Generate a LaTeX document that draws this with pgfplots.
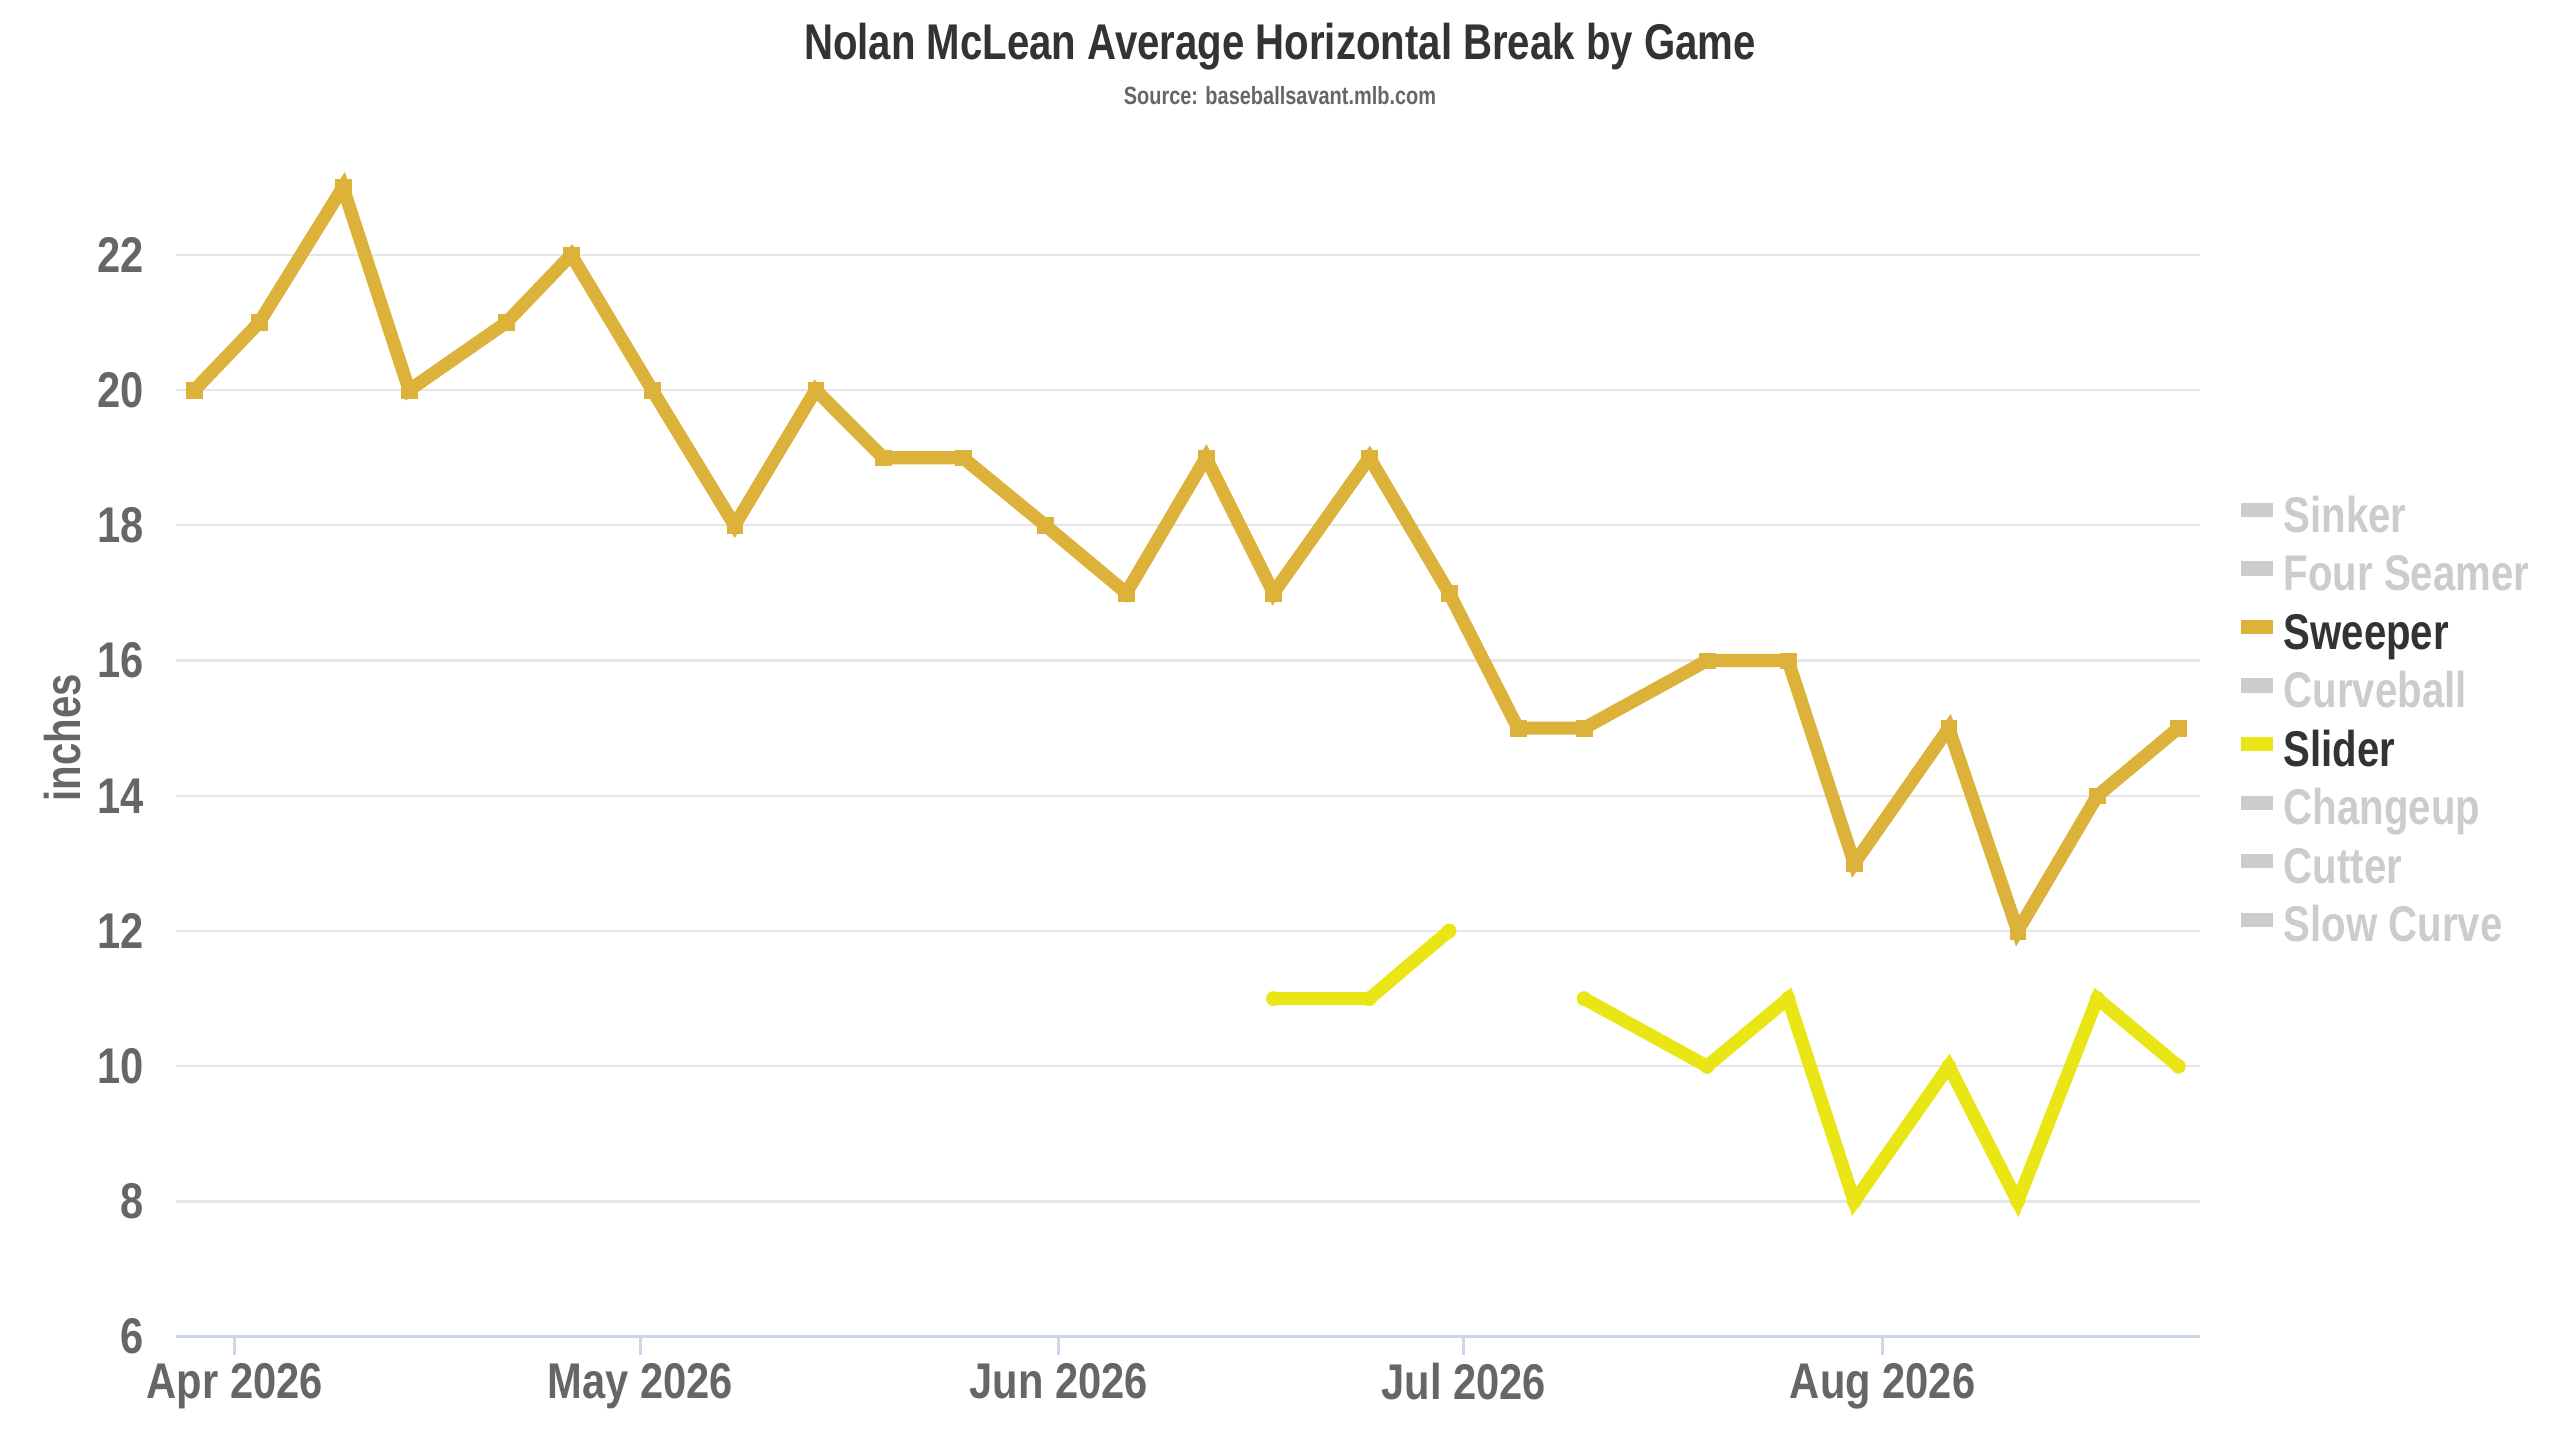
\documentclass[border=0pt]{standalone}
\usepackage{fontspec}
\setmainfont{Liberation Sans}[FakeStretch=0.80]
\newfontfamily\tickfont{Liberation Sans}[FakeStretch=0.83]
\usepackage{pgfplots}
\pgfplotsset{compat=1.18}
\definecolor{sweep}{RGB}{221,178,58}
\definecolor{slide}{RGB}{234,230,22}
\definecolor{gridc}{RGB}{230,230,230}
\definecolor{axline}{RGB}{204,214,235}
\definecolor{tickc}{RGB}{102,102,102}
\definecolor{dark}{RGB}{51,51,51}
\definecolor{hid}{RGB}{204,204,204}
\pgfplotstableread{
d v
-3.0 20
1.8 21
8.0 23
12.9 20
20.1 21
24.9 22
30.9 20
37.0 18
43.0 20
48.0 19
53.9 19
60.0 18
66.0 17
71.9 19
76.9 17
84.0 19
89.9 17
95.0 15
99.9 15
109.0 16
115.0 16
119.9 13
126.9 15
132.0 12
137.9 14
143.9 15
}\sweeper
\pgfplotstableread{
d v
76.9 11
84.0 11
89.9 12
95.0 nan
99.9 11
109.0 10
115.0 11
119.9 8
126.9 10
132.0 8
137.9 11
143.9 10
}\slider
\begin{document}
\begin{tikzpicture}
\useasboundingbox (0,0) rectangle (780pt,438.75pt);
\begin{axis}[
  at={(53.6pt,31.48pt)}, anchor=south west, scale only axis,
  width=616.7pt, height=370.8pt,
  xmin=-4.37, xmax=145.5, ymin=6, ymax=24,
  clip=false,
  unbounded coords=jump,
  axis x line*=bottom, axis y line*=left,
  x axis line style={draw=axline, line width=0.9pt},
  y axis line style={draw=none},
  ytick={6,8,...,22},
  ymajorgrids, grid style={draw=gridc, line width=0.7pt},
  y tick style={draw=none},
  xtick={0,30,61,91,122},
  xticklabels={Apr 2026, May 2026, Jun 2026, Jul 2026, Aug 2026},
  x tick style={draw=axline, line width=0.9pt},
  tick align=outside, major tick length=5.5pt,
  /pgf/number format/assume math mode=true,
  ticklabel style={font=\tickfont\bfseries\fontsize{15.3}{17}\selectfont, text=tickc},
  yticklabel style={anchor=east, inner sep=0pt, xshift=-4pt},
  xticklabel style={anchor=north, inner sep=0pt, yshift=-2.5pt},
  ylabel={inches},
  ylabel style={at={(rel axis cs:-0.0561,0.492)}, anchor=center, font=\bfseries\fontsize{15.3}{17}\selectfont, text=tickc},
  legend style={at={(1.0198,0.6913)}, anchor=north west, draw=none, fill=none,
    inner sep=0pt, row sep=3.33pt, column sep=3.4pt,
    font=\bfseries\fontsize{15.3}{17}\selectfont,
    nodes={inner sep=0pt, text height=11pt, text depth=3.5pt}},
  legend cell align=left,
  legend image code/.code={\path[draw=none, fill, line width=0pt] (0pt,0.85pt) rectangle (9.7pt,5.15pt);},
]
\addlegendimage{hid}
\addlegendentry{\textcolor{hid}{Sinker}}
\addlegendimage{hid}
\addlegendentry{\textcolor{hid}{Four Seamer}}
\addplot[sweep, line width=4pt, mark=square*, mark size=2.4pt, mark options={line width=0.1pt}] table[x=d, y=v] {\sweeper};
\addlegendentry{\textcolor{dark}{Sweeper}}
\addlegendimage{hid}
\addlegendentry{\textcolor{hid}{Curveball}}
\addplot[slide, line width=4pt, mark=*, mark size=2.2pt, mark options={line width=0.1pt}] table[x=d, y=v] {\slider};
\addlegendentry{\textcolor{dark}{Slider}}
\addlegendimage{hid}
\addlegendentry{\textcolor{hid}{Changeup}}
\addlegendimage{hid}
\addlegendentry{\textcolor{hid}{Cutter}}
\addlegendimage{hid}
\addlegendentry{\textcolor{hid}{Slow Curve}}
\end{axis}
\node[anchor=base, font=\bfseries\fontsize{15.3}{17}\selectfont, text=dark] at (390pt,420.5pt) {Nolan McLean Average Horizontal Break by Game};
\node[anchor=base, font=\bfseries\fontsize{7.6}{9}\selectfont, text=tickc] at (390pt,406.8pt) {Source: baseballsavant.mlb.com};
\end{tikzpicture}
\end{document}
